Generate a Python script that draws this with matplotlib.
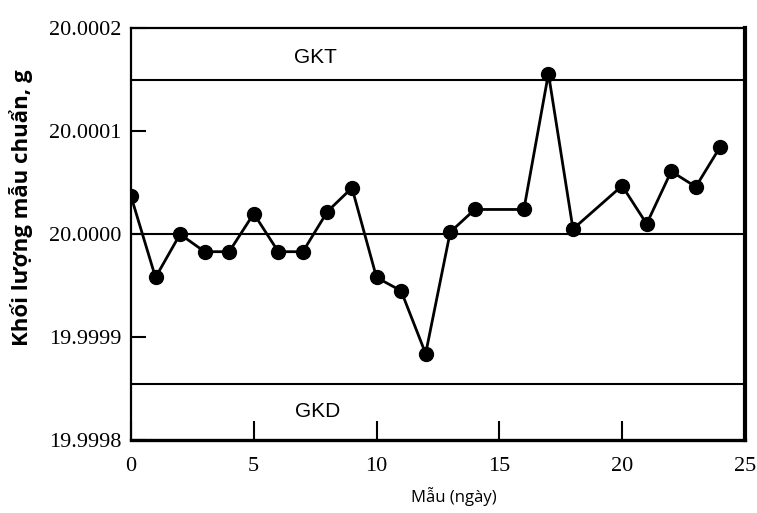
import matplotlib
matplotlib.use("Agg")
import matplotlib.pyplot as plt
from matplotlib.ticker import FixedLocator, FixedFormatter

# ---- data ----
days = [0, 1, 2, 3, 4, 5, 6, 7, 8, 9, 10, 11, 12, 13, 14, 16, 17, 18, 20, 21, 22, 23, 24]
mass = [20.000037, 19.999958, 20.000000, 19.999983, 19.999983, 20.000020,
        19.999983, 19.999983, 20.000022, 20.000045, 19.999958, 19.999945,
        19.999884, 20.000002, 20.000024, 20.000024, 20.000156, 20.000005,
        20.000047, 20.000010, 20.000061, 20.000046, 20.000085]
center_line = 20.0000
upper_limit = 20.00015
lower_limit = 19.999855
upper_label = "GKT"
lower_label = "GKD"
x_ticks = [0, 5, 10, 15, 20, 25]
y_ticks = [19.9998, 19.9999, 20.0000, 20.0001, 20.0002]
y_tick_labels = ["19.9998", "19.9999", "20.0000", "20.0001", "20.0002"]
x_label = "Mẫu (ngày)"
y_label = "Khối lượng mẫu chuẩn, g"

fig = plt.figure(figsize=(7.57, 5.13), dpi=100)
ax = fig.add_axes([0.173, 0.142, 0.811, 0.803])

ax.axhline(upper_limit, color="black", lw=1.5)
ax.axhline(center_line, color="black", lw=1.5)
ax.axhline(lower_limit, color="black", lw=1.5)

ax.plot(days, mass, color="black", lw=2.0, marker="o", markersize=10,
        markerfacecolor="black", markeredgecolor="black")

ax.text(7.5, 20.000172, upper_label, ha="center", va="center",
        fontsize=15, family="Liberation Sans")
ax.text(7.6, 19.999828, lower_label, ha="center", va="center",
        fontsize=15, family="Liberation Sans")

ax.set_xlim(0, 25)
ax.set_ylim(19.9998, 20.0002)
ax.xaxis.set_major_locator(FixedLocator(x_ticks))
ax.yaxis.set_major_locator(FixedLocator(y_ticks))
ax.yaxis.set_major_formatter(FixedFormatter(y_tick_labels))

ax.tick_params(axis="x", direction="in", length=14, width=1.5, pad=12,
               labelsize=16)
ax.tick_params(axis="y", direction="in", length=11, width=1.5, pad=7,
               labelsize=16)
for lab in ax.get_xticklabels() + ax.get_yticklabels():
    lab.set_family("Liberation Serif")

ax.spines["left"].set_linewidth(1.6)
ax.spines["top"].set_linewidth(1.6)
ax.spines["right"].set_linewidth(3)
ax.spines["bottom"].set_linewidth(2.4)

fig.text(454 / 757, 1 - 497 / 513, x_label, ha="center", va="center",
         fontsize=12, family="Open Sans")
fig.text(0.028, 1 - 208 / 513, y_label, rotation=90, ha="center", va="center",
         fontsize=16, family="Open Sans", fontweight="bold")

fig.savefig("out.png", dpi=100)
